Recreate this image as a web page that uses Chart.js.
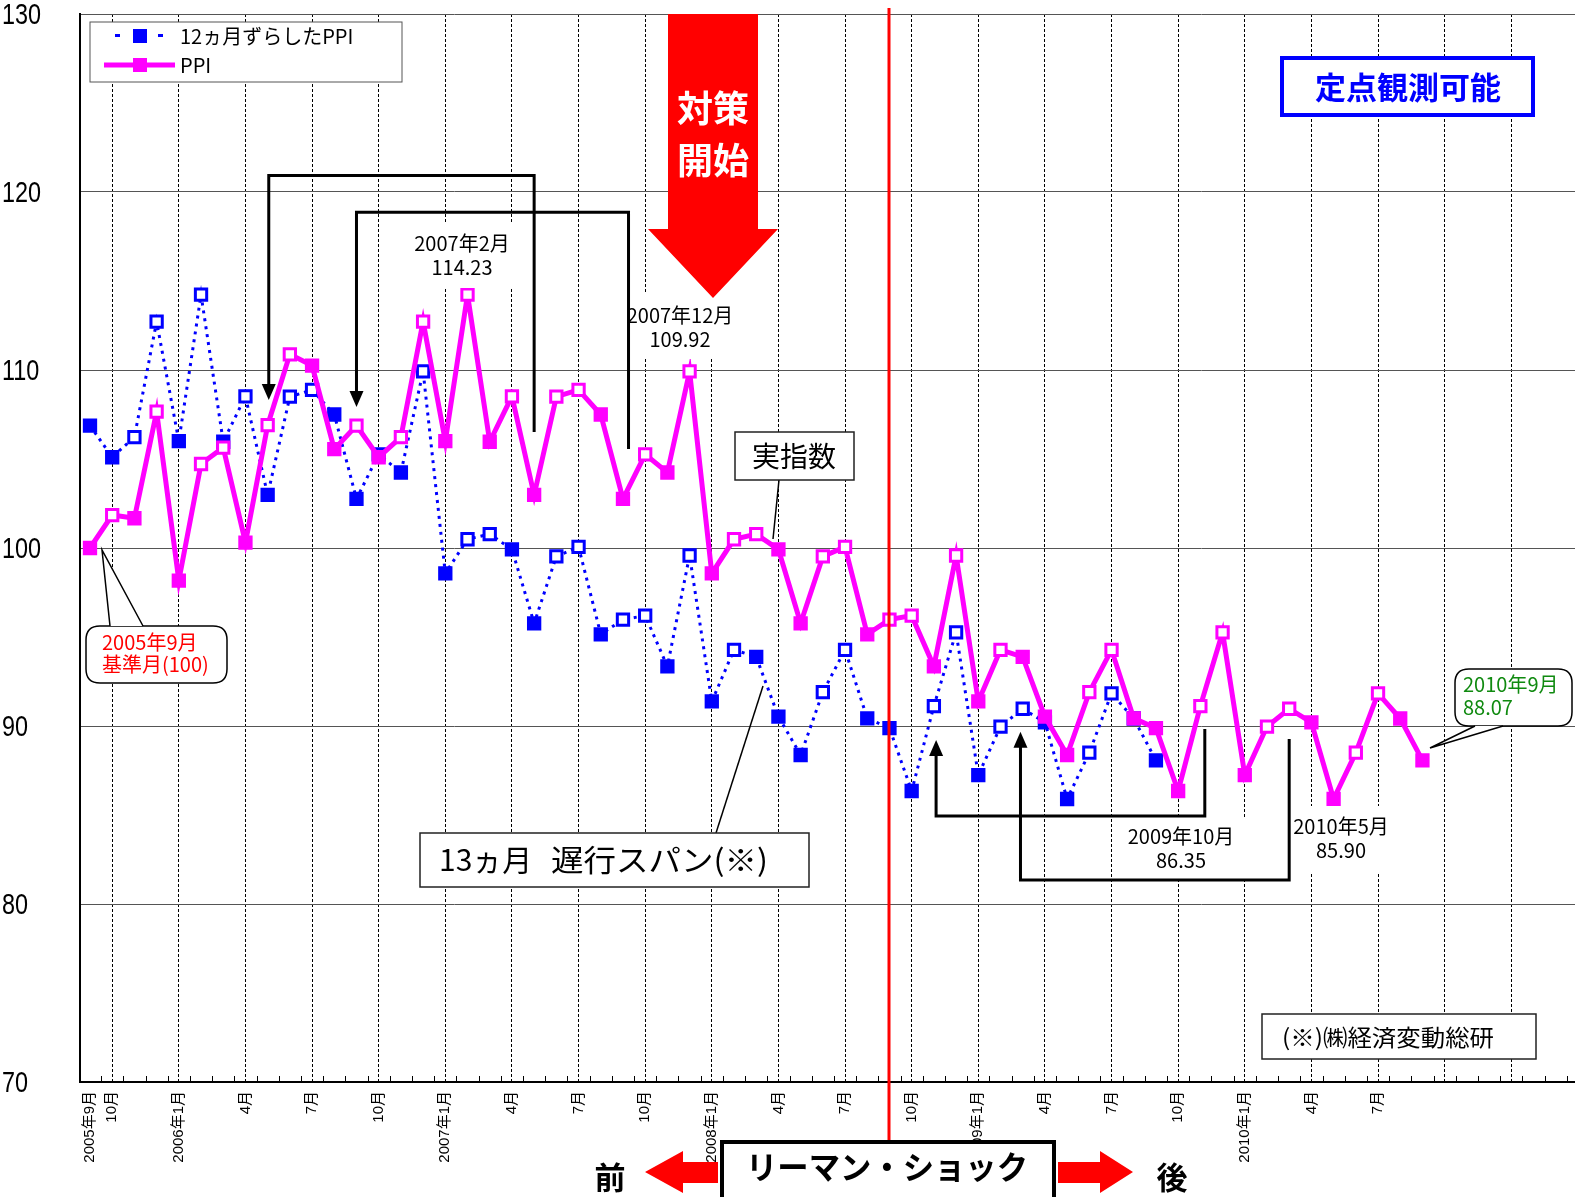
<!DOCTYPE html>
<html lang="ja">
<head>
<meta charset="utf-8">
<title>PPI と 12ヵ月ずらしたPPI</title>
<script src="https://cdn.jsdelivr.net/npm/chart.js@4.4.1/dist/chart.umd.min.js"></script>
<style>
  html, body { margin: 0; padding: 0; background: #fff; }
  canvas { display: block; }
</style>
</head>
<body>
<canvas id="ppiChart" width="1575" height="1197"></canvas>
<script>
// 月 (2005年9月 ～ 2011年3月)
const months = [
  '2005年9月', '10月', '11月', '12月',
  '2006年1月', '2月', '3月', '4月', '5月', '6月', '7月', '8月', '9月', '10月', '11月', '12月',
  '2007年1月', '2月', '3月', '4月', '5月', '6月', '7月', '8月', '9月', '10月', '11月', '12月',
  '2008年1月', '2月', '3月', '4月', '5月', '6月', '7月', '8月', '9月', '10月', '11月', '12月',
  '2009年1月', '2月', '3月', '4月', '5月', '6月', '7月', '8月', '9月', '10月', '11月', '12月',
  '2010年1月', '2月', '3月', '4月', '5月', '6月', '7月', '8月', '9月', '10月', '11月', '12月',
  '2011年1月', '2月', '3月'
];

// x軸に表示するラベル
const tickLabels = [
  '2005年9月', '10月', '', '',
  '2006年1月', '', '', '4月', '', '', '7月', '', '', '10月', '', '',
  '2007年1月', '', '', '4月', '', '', '7月', '', '', '10月', '', '',
  '2008年1月', '', '', '4月', '', '', '7月', '', '', '10月', '', '',
  '2009年1月', '', '', '4月', '', '', '7月', '', '', '10月', '', '',
  '2010年1月', '', '', '4月', '', '', '7月', '', '', '', '', '',
  '', '', ''
];

// PPI 実指数 (2005年9月 = 100)
const ppi = [
  100.00, 101.85, 101.67, 107.66,
  98.17, 104.72, 105.64, 100.30, 106.90, 110.88, 110.25, 105.55, 106.88, 105.10, 106.23, 112.72,
  106.00, 114.23, 105.97, 108.52, 102.98, 108.50, 108.88, 107.50, 102.76, 105.26, 104.24, 109.92,
  98.57, 100.49, 100.78, 99.92, 95.77, 99.53, 100.06, 95.15, 95.98, 96.20, 93.35, 99.58,
  91.38, 94.28, 93.88, 90.53, 88.37, 91.90, 94.28, 90.43, 89.88, 86.35, 91.12, 95.26,
  87.24, 89.97, 90.97, 90.20, 85.90, 88.50, 91.83, 90.42, 88.07
];

// 12ヵ月ずらしたPPI (2005年9月 ～ 2009年9月)
const shiftedPpi = [
  106.88, 105.10, 106.23, 112.72,
  106.00, 114.23, 105.97, 108.52, 102.98, 108.50, 108.88, 107.50, 102.76, 105.26, 104.24, 109.92,
  98.57, 100.49, 100.78, 99.92, 95.77, 99.53, 100.06, 95.15, 95.98, 96.20, 93.35, 99.58,
  91.38, 94.28, 93.88, 90.53, 88.37, 91.90, 94.28, 90.43, 89.88, 86.35, 91.12, 95.26,
  87.24, 89.97, 90.97, 90.20, 85.90, 88.50, 91.83, 90.42, 88.07
];

const yTicks = [70, 80, 90, 100, 110, 120, 130];

const MAGENTA = '#ff00ff';
const BLUE = '#0000ff';
const RED = '#ff0000';
const JP = '"Noto Sans CJK JP", "Noto Sans", sans-serif';

/**
 * 前月より下がった点は塗りつぶし、上がった点は白抜き
 */
function markFill(c, color) {
  const i = c.dataIndex;
  const d = c.dataset.data;
  if (i === undefined || i === 0) return color;
  return d[i].y < d[i - 1].y ? color : '#ffffff';
}

/**
 * 注記・矢印・枠などの描画
 */
const overlay = {
  id: 'overlay',
  beforeDatasetsDraw(chart) {
    const {ctx, chartArea, scales: {x, y}} = chart;
    const base = y.getPixelForValue(yTicks[0]);

    // x軸の内向き小目盛
    ctx.save();
    ctx.strokeStyle = '#000';
    ctx.lineWidth = 1;
    for (let i = 0; i <= months.length; i++) {
      const px = Math.round(x.getPixelForValue(i - 0.5)) + 0.5;
      if (px < chartArea.left + 2 || px > chartArea.right) continue;
      ctx.beginPath();
      ctx.moveTo(px, base);
      ctx.lineTo(px, base - 6);
      ctx.stroke();
    }
    ctx.restore();

    // y軸の目盛ラベル (細めの字形)
    ctx.save();
    ctx.font = '30px "Liberation Sans", Arial, sans-serif';
    ctx.fillStyle = '#000';
    ctx.textAlign = 'left';
    ctx.textBaseline = 'middle';
    y.ticks.forEach(t => {
      ctx.save();
      ctx.translate(2, y.getPixelForValue(t.value) + 2);
      ctx.scale(0.78, 1);
      ctx.fillText(String(t.value), 0, 0);
      ctx.restore();
    });
    ctx.restore();
  },
  afterDatasetsDraw(chart) {
    const {ctx, scales: {x, y}} = chart;
    const X = v => x.getPixelForValue(v);
    const Y = v => y.getPixelForValue(v);

    const line = (pts, w, color) => {
      ctx.save();
      ctx.strokeStyle = color; ctx.lineWidth = w;
      ctx.lineJoin = 'miter'; ctx.lineCap = 'butt';
      ctx.beginPath();
      ctx.moveTo(pts[0][0], pts[0][1]);
      for (let i = 1; i < pts.length; i++) ctx.lineTo(pts[i][0], pts[i][1]);
      ctx.stroke();
      ctx.restore();
    };
    const poly = (pts, color) => {
      ctx.save();
      ctx.fillStyle = color;
      ctx.beginPath();
      ctx.moveTo(pts[0][0], pts[0][1]);
      for (let i = 1; i < pts.length; i++) ctx.lineTo(pts[i][0], pts[i][1]);
      ctx.closePath();
      ctx.fill();
      ctx.restore();
    };
    const box = (x1, y1, x2, y2, stroke, w, fill) => {
      ctx.save();
      ctx.fillStyle = fill || '#fff';
      ctx.fillRect(x1, y1, x2 - x1, y2 - y1);
      if (stroke) {
        ctx.strokeStyle = stroke; ctx.lineWidth = w;
        ctx.strokeRect(x1, y1, x2 - x1, y2 - y1);
      }
      ctx.restore();
    };
    const text = (str, tx, ty, font, color, align) => {
      ctx.save();
      ctx.font = font;
      ctx.fillStyle = color || '#000';
      ctx.textAlign = align || 'center';
      ctx.textBaseline = 'middle';
      ctx.fillText(str, tx, ty);
      ctx.restore();
    };
    // 指定幅に合わせて横方向に伸縮して描く (左揃え)
    const fitText = (str, tx, ty, font, color, width) => {
      ctx.save();
      ctx.font = font;
      ctx.fillStyle = color || '#000';
      ctx.textAlign = 'left';
      ctx.textBaseline = 'middle';
      const k = width / ctx.measureText(str).width;
      ctx.translate(tx, ty);
      ctx.scale(k, 1);
      ctx.fillText(str, 0, 0);
      ctx.restore();
    };
    const headDown = (hx, hy) => poly([[hx - 7, hy - 16], [hx + 7, hy - 16], [hx, hy]], '#000');
    const headUp = (hx, hy) => poly([[hx - 7, hy + 16], [hx + 7, hy + 16], [hx, hy]], '#000');
    const roundRect = (x1, y1, x2, y2, r) => {
      ctx.beginPath();
      ctx.moveTo(x1 + r, y1);
      ctx.lineTo(x2 - r, y1); ctx.quadraticCurveTo(x2, y1, x2, y1 + r);
      ctx.lineTo(x2, y2 - r); ctx.quadraticCurveTo(x2, y2, x2 - r, y2);
      ctx.lineTo(x1 + r, y2); ctx.quadraticCurveTo(x1, y2, x1, y2 - r);
      ctx.lineTo(x1, y1 + r); ctx.quadraticCurveTo(x1, y1, x1 + r, y1);
      ctx.closePath();
    };
    const callout = (x1, y1, x2, y2, b1, b2, tip, edgeY) => {
      ctx.save();
      ctx.fillStyle = '#fff'; ctx.strokeStyle = '#000'; ctx.lineWidth = 1.5;
      roundRect(x1, y1, x2, y2, 14);
      ctx.fill(); ctx.stroke();
      ctx.beginPath();
      ctx.moveTo(b1, edgeY); ctx.lineTo(tip[0], tip[1]); ctx.lineTo(b2, edgeY);
      ctx.closePath(); ctx.fill();
      ctx.beginPath();
      ctx.moveTo(b1, edgeY); ctx.lineTo(tip[0], tip[1]); ctx.lineTo(b2, edgeY);
      ctx.stroke();
      ctx.restore();
    };

    const lab = '20px ' + JP;

    // 注記ラベルの白地
    box(408, 222, 520, 288);
    box(622, 293, 740, 359);
    box(1115, 817, 1250, 878);
    box(1290, 806, 1396, 873);

    text('2007年2月', 462, 243, lab);
    text('114.23', 462, 267, lab);
    text('2007年12月', 680, 315, lab);
    text('109.92', 680, 339, lab);
    text('2009年10月', 1181, 836, lab);
    text('86.35', 1181, 860, lab);
    text('2010年5月', 1341, 826, lab);
    text('85.90', 1341, 850, lab);

    // 12ヵ月のずれを示すカギ矢印 (上)
    line([[X(20), Y(106.52)], [X(20), Y(120.92)], [X(8.05), Y(120.92)], [X(8.05), Y(108.31) - 14]], 3, '#000');
    headDown(X(8.05), Y(108.31));
    line([[X(24.25), Y(105.56)], [X(24.25), Y(118.86)], [X(12), Y(118.86)], [X(12), Y(107.92) - 14]], 3, '#000');
    headDown(X(12), Y(107.92));

    // 12ヵ月のずれを示すカギ矢印 (下)
    line([[X(50.2), Y(89.83)], [X(50.2), Y(84.94)], [X(38.1), Y(84.94)], [X(38.1), Y(89.21) + 14]], 3, '#000');
    headUp(X(38.1), Y(89.21));
    line([[X(54), Y(89.27)], [X(54), Y(81.35)], [X(41.9), Y(81.35)], [X(41.9), Y(89.68) + 14]], 3, '#000');
    headUp(X(41.9), Y(89.68));

    // 対策開始の矢印
    poly([[668, 14], [758, 14], [758, 229], [778, 229], [713, 298], [648, 229], [668, 229]], RED);
    text('対策', 713, 108, 'bold 36px ' + JP, '#fff');
    text('開始', 713, 160, 'bold 36px ' + JP, '#fff');

    // リーマン・ショック (2008年9月)
    const lx = Math.round(X(36));
    line([[lx, 8], [lx, 1142]], 3, RED);

    // 凡例
    box(90, 22, 402, 82, '#555', 1);
    ctx.save();
    ctx.fillStyle = BLUE;
    ctx.fillRect(115, 34, 5, 3);
    ctx.fillRect(133, 29, 14, 14);
    ctx.fillRect(158, 34, 5, 3);
    ctx.restore();
    text('12ヵ月ずらしたPPI', 180, 36, lab, '#000', 'left');
    line([[104, 65], [175, 65]], 5, MAGENTA);
    poly([[133, 58], [147, 58], [147, 72], [133, 72]], MAGENTA);
    text('PPI', 180, 65, lab, '#000', 'left');

    // 定点観測可能
    box(1282, 58, 1533, 115, BLUE, 4);
    text('定点観測可能', 1408, 87, 'bold 31px ' + JP, BLUE);

    // 実指数
    line([[779, 480], [773, 539]], 1.5, '#000');
    box(735, 432, 854, 480, '#222', 1.5);
    text('実指数', 794, 456, '28px ' + JP);

    // 13ヵ月 遅行スパン
    line([[716, 833], [763, 686]], 1.5, '#000');
    box(420, 833, 809, 887, '#222', 1.5);
    text('13ヵ月', 439, 860, '30px ' + JP, '#000', 'left');
    fitText('遅行スパン(※)', 551, 860, '30px ' + JP, '#000', 217);

    // 出所
    box(1262, 1014, 1536, 1059, '#222', 1.5);
    fitText('(※)㈱経済変動総研', 1282, 1037, '23px ' + JP, '#000', 212);

    // 吹き出し
    callout(86, 626, 227, 683, 110, 143, [102, 550], 626);
    text('2005年9月', 102, 642, lab, RED, 'left');
    text('基準月(100)', 102, 664, lab, RED, 'left');
    callout(1455, 669, 1572, 726, 1475, 1503, [1430, 748], 726);
    text('2010年9月', 1463, 684, lab, '#108a10', 'left');
    text('88.07', 1463, 707, lab, '#108a10', 'left');

    // 前・後
    poly([[683, 1162], [718, 1162], [718, 1183], [683, 1183], [683, 1193], [645, 1172], [683, 1151]], RED);
    poly([[1058, 1162], [1100, 1162], [1100, 1151], [1133, 1172], [1100, 1193], [1100, 1183], [1058, 1183]], RED);
    text('前', 610, 1177, 'bold 31px ' + JP);
    text('後', 1172, 1177, 'bold 31px ' + JP);
    box(722, 1142, 1054, 1199, '#000', 4);
    fitText('リーマン・ショック', 746, 1167, 'bold 32px ' + JP, '#000', 282);
  }
};

const ppiChart = new Chart(document.getElementById('ppiChart'), {
  type: 'line',
  data: {
    datasets: [
      {
        label: 'PPI',
        data: ppi.map((v, i) => ({x: i, y: v})),
        borderColor: MAGENTA,
        borderWidth: 5,
        pointStyle: 'rect',
        pointRadius: 8,
        pointBorderWidth: 3,
        pointBorderColor: MAGENTA,
        pointBackgroundColor: c => markFill(c, MAGENTA),
        tension: 0,
        order: 0
      },
      {
        label: '12ヵ月ずらしたPPI',
        data: shiftedPpi.map((v, i) => ({x: i, y: v})),
        borderColor: BLUE,
        borderWidth: 3,
        borderDash: [3, 5],
        pointStyle: 'rect',
        pointRadius: 8,
        pointBorderWidth: 3,
        pointBorderColor: BLUE,
        pointBackgroundColor: c => markFill(c, BLUE),
        tension: 0,
        order: 1
      }
    ]
  },
  options: {
    responsive: false,
    animation: false,
    events: [],
    layout: { autoPadding: false, padding: { top: 14, right: 0, bottom: 0, left: 0 } },
    plugins: {
      legend: { display: false },
      tooltip: { enabled: false }
    },
    scales: {
      x: {
        type: 'linear',
        min: -0.45,
        max: 66.87,
        afterBuildTicks: s => { s.ticks = months.map((m, i) => ({ value: i })); },
        afterFit: s => { s.height = 115; s.paddingLeft = 0; s.paddingRight = 0; },
        ticks: {
          autoSkip: false,
          minRotation: 90,
          maxRotation: 90,
          padding: 9,
          color: '#000',
          font: { family: '"Liberation Sans", "Noto Sans CJK JP", sans-serif', size: 15 },
          callback: v => tickLabels[v] || ''
        },
        grid: {
          drawTicks: false,
          lineWidth: 1,
          color: c => (c.tick && c.tick.value % 3 === 1) ? '#000' : 'rgba(0,0,0,0)'
        },
        border: { color: '#000', width: 2, dash: [3, 2] }
      },
      y: {
        min: 70,
        max: 130,
        afterBuildTicks: s => { s.ticks = yTicks.map(v => ({ value: v })); },
        afterFit: s => { s.width = 80; s.paddingTop = 0; s.paddingBottom = 0; },
        ticks: { display: false },
        grid: { drawTicks: false, color: '#555', lineWidth: 1 },
        border: { color: '#000', width: 2 }
      }
    }
  },
  plugins: [overlay]
});
</script>
</body>
</html>
